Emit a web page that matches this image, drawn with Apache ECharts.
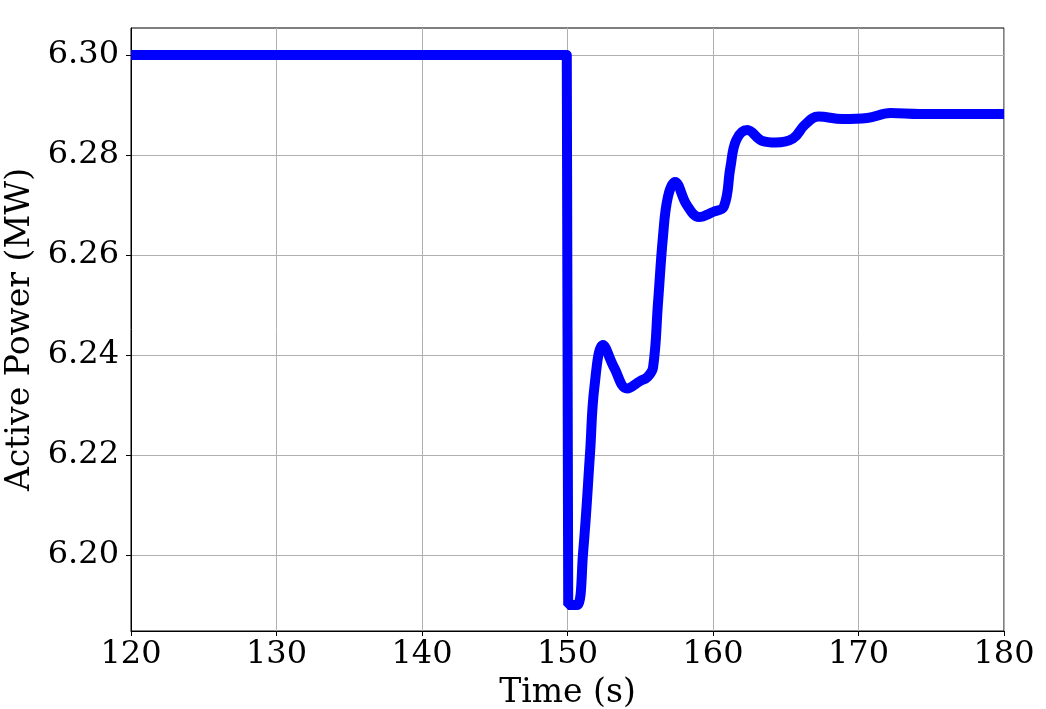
<!DOCTYPE html>
<html>
<head>
<meta charset="utf-8">
<script src="https://cdn.jsdelivr.net/npm/echarts@6/dist/echarts.min.js"></script>
<style>
  html, body { margin: 0; padding: 0; background: #fff; }
  #chart { width: 1046px; height: 709px; }
</style>
</head>
<body>
<div id="chart"></div>
<script>
// time (s) and active power (MW)
const times = [120, 149.95, 150.05, 150.65, 151.07, 151.55, 151.85, 152.44, 153.2, 154.1, 155.0, 155.5,
  155.88, 156.22, 156.56, 156.9, 157.39, 158.2, 159.04, 160.0, 160.75, 161.2, 161.6, 162.35, 163.4,
  164.3, 165.5, 166.3, 167.25, 168.9, 170.6, 172.2, 174.2, 180]
const power = [6.300, 6.300, 6.190, 6.190, 6.2004, 6.2204, 6.2336, 6.2420, 6.2375, 6.2333, 6.2348, 6.2356,
  6.2375, 6.2504, 6.2636, 6.2716, 6.2746, 6.2700, 6.2676, 6.2686, 6.2697, 6.2776, 6.2830, 6.2850, 6.2828,
  6.2825, 6.2833, 6.2860, 6.2877, 6.2872, 6.2874, 6.2884, 6.2882, 6.2882]
const yTicks = [6.20, 6.22, 6.24, 6.26, 6.28, 6.30]

const font = 'DejaVu Serif'
const chart = echarts.init(document.getElementById('chart'))

chart.setOption({
  animation: false,
  grid: {
    left: 131,
    top: 28,
    right: 42,
    bottom: 78,
    outerBoundsMode: 'none',
    show: true,
    borderColor: '#000',
    borderWidth: 1
  },
  xAxis: {
    type: 'value',
    min: 120,
    max: 180,
    interval: 10,
    name: 'Time (s)',
    nameLocation: 'middle',
    nameGap: 46,
    nameTextStyle: { fontFamily: font, fontSize: 33, color: '#000' },
    axisLine: { show: true, lineStyle: { color: '#000', width: 1 } },
    axisTick: { show: true, length: 5, lineStyle: { color: '#000' } },
    axisLabel: { fontFamily: font, fontSize: 32, color: '#000', margin: 8 },
    splitLine: { show: true, lineStyle: { color: '#b0b0b0', width: 1 } }
  },
  yAxis: {
    type: 'value',
    min: 6.1848,
    max: 6.3054,
    name: 'Active Power (MW)',
    nameLocation: 'middle',
    nameGap: 93,
    nameTextStyle: { fontFamily: font, fontSize: 33, color: '#000' },
    axisLine: { show: true, lineStyle: { color: '#000', width: 1 } },
    axisTick: { show: true, length: 5, customValues: yTicks, lineStyle: { color: '#000' } },
    axisLabel: {
      fontFamily: font, fontSize: 32, color: '#000', margin: 12,
      customValues: yTicks,
      formatter: (v) => v.toFixed(2)
    },
    splitLine: { show: true, lineStyle: { color: '#b0b0b0', width: 1 } }
  },
  series: [{
    type: 'line',
    data: times.map((t, i) => [t, power[i]]),
    showSymbol: false,
    smooth: 0.4,
    lineStyle: { color: '#0000ff', width: 10 },
    itemStyle: { color: '#0000ff' }
  }]
})
</script>
</body>
</html>
